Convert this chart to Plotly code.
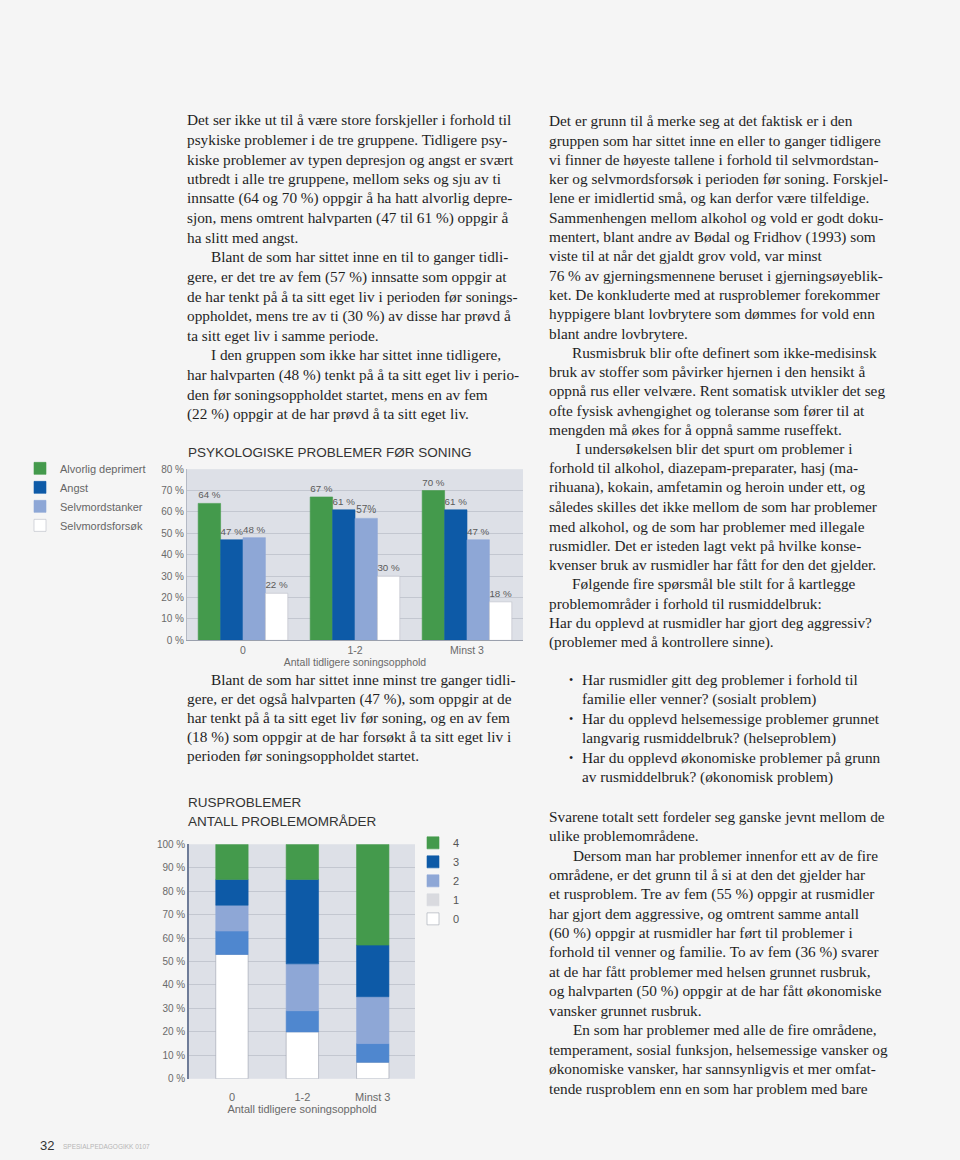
import plotly.graph_objects as go
import numpy as np

W, H = 960, 1160

# ---------------- data ----------------
groups = ["0", "1-2", "Minst 3"]

psy_series = ["Alvorlig deprimert", "Angst", "Selvmordstanker", "Selvmordsforsøk"]
alvorlig_deprimert = [64, 67, 70]
angst = [47, 61, 61]
selvmordstanker = [48, 57, 47]
selvmordsforsok = [22, 30, 18]
psy_colors = ["#449a4c", "#0d5aa7", "#8ea7d6", "#ffffff"]

rus_levels = ["0", "1", "2", "3", "4"]
rus_0 = [53, 20, 7]
rus_1 = [10, 9, 8]
rus_2 = [11, 20, 20]
rus_3 = [11, 36, 22]
rus_4 = [15, 15, 43]
rus_colors = ["#ffffff", "#4f87cf", "#8ea7d6", "#0d5aa7", "#449a4c"]
rus_legend_colors = ["#ffffff", "#d9dadf", "#8ea7d6", "#0d5aa7", "#449a4c"]

pct_ticks_1 = list(range(0, 81, 10))
pct_ticks_2 = list(range(0, 101, 10))

# ---------------- body text ----------------
col2_top = [
    (0, "Det ser ikke ut til å være store forskjeller i forhold til"),
    (0, "psykiske problemer i de tre gruppene. Tidligere psy-"),
    (0, "kiske problemer av typen depresjon og angst er svært"),
    (0, "utbredt i alle tre gruppene, mellom seks og sju av ti"),
    (0, "innsatte (64 og 70 %) oppgir å ha hatt alvorlig depre-"),
    (0, "sjon, mens omtrent halvparten (47 til 61 %) oppgir å"),
    (0, "ha slitt med angst."),
    (1, "Blant de som har sittet inne en til to ganger tidli-"),
    (0, "gere, er det tre av fem (57 %) innsatte som oppgir at"),
    (0, "de har tenkt på å ta sitt eget liv i perioden før sonings-"),
    (0, "oppholdet, mens tre av ti (30 %) av disse har prøvd å"),
    (0, "ta sitt eget liv i samme periode."),
    (1, "I den gruppen som ikke har sittet inne tidligere,"),
    (0, "har halvparten (48 %) tenkt på å ta sitt eget liv i perio-"),
    (0, "den før soningsoppholdet startet, mens en av fem"),
    (0, "(22 %) oppgir at de har prøvd å ta sitt eget liv."),
]
col2_bottom = [
    (1, "Blant de som har sittet inne minst tre ganger tidli-"),
    (0, "gere, er det også halvparten (47 %), som oppgir at de"),
    (0, "har tenkt på å ta sitt eget liv før soning, og en av fem"),
    (0, "(18 %) som oppgir at de har forsøkt å ta sitt eget liv i"),
    (0, "perioden før soningsoppholdet startet."),
]
col3_top = [
    (0, "Det er grunn til å merke seg at det faktisk er i den"),
    (0, "gruppen som har sittet inne en eller to ganger tidligere"),
    (0, "vi finner de høyeste tallene i forhold til selvmordstan-"),
    (0, "ker og selvmordsforsøk i perioden før soning. Forskjel-"),
    (0, "lene er imidlertid små, og kan derfor være tilfeldige."),
    (0, "Sammenhengen mellom alkohol og vold er godt doku-"),
    (0, "mentert, blant andre av Bødal og Fridhov (1993) som"),
    (0, "viste til at når det gjaldt grov vold, var minst"),
    (0, "76 % av gjerningsmennene beruset i gjerningsøyeblik-"),
    (0, "ket. De konkluderte med at rusproblemer forekommer"),
    (0, "hyppigere blant lovbrytere som dømmes for vold enn"),
    (0, "blant andre lovbrytere."),
    (1, "Rusmisbruk blir ofte definert som ikke-medisinsk"),
    (0, "bruk av stoffer som påvirker hjernen i den hensikt å"),
    (0, "oppnå rus eller velvære. Rent somatisk utvikler det seg"),
    (0, "ofte fysisk avhengighet og toleranse som fører til at"),
    (0, "mengden må økes for å oppnå samme ruseffekt."),
    (1, " I undersøkelsen blir det spurt om problemer i"),
    (0, "forhold til alkohol, diazepam-preparater, hasj (ma-"),
    (0, "rihuana), kokain, amfetamin og heroin under ett, og"),
    (0, "således skilles det ikke mellom de som har problemer"),
    (0, "med alkohol, og de som har problemer med illegale"),
    (0, "rusmidler. Det er isteden lagt vekt på hvilke konse-"),
    (0, "kvenser bruk av rusmidler har fått for den det gjelder."),
    (1, "Følgende fire spørsmål ble stilt for å kartlegge"),
    (0, "problemområder i forhold til rusmiddelbruk:"),
    (0, "Har du opplevd at rusmidler har gjort deg aggressiv?"),
    (0, "(problemer med å kontrollere sinne)."),
]
col3_bullets = [
    (1, "Har rusmidler gitt deg problemer i forhold til"),
    (0, "familie eller venner? (sosialt problem)"),
    (1, "Har du opplevd helsemessige problemer grunnet"),
    (0, "langvarig rusmiddelbruk? (helseproblem)"),
    (1, "Har du opplevd økonomiske problemer på grunn"),
    (0, "av rusmiddelbruk? (økonomisk problem)"),
]
col3_bottom = [
    (0, "Svarene totalt sett fordeler seg ganske jevnt mellom de"),
    (0, "ulike problemområdene."),
    (1, "Dersom man har problemer innenfor ett av de fire"),
    (0, "områdene, er det grunn til å si at den det gjelder har"),
    (0, "et rusproblem. Tre av fem (55 %) oppgir at rusmidler"),
    (0, "har gjort dem aggressive, og omtrent samme antall"),
    (0, "(60 %) oppgir at rusmidler har ført til problemer i"),
    (0, "forhold til venner og familie. To av fem (36 %) svarer"),
    (0, "at de har fått problemer med helsen grunnet rusbruk,"),
    (0, "og halvparten (50 %) oppgir at de har fått økonomiske"),
    (0, "vansker grunnet rusbruk."),
    (1, "En som har problemer med alle de fire områdene,"),
    (0, "temperament, sosial funksjon, helsemessige vansker og"),
    (0, "økonomiske vansker, har sannsynligvis et mer omfat-"),
    (0, "tende rusproblem enn en som har problem med bare"),
]


def px(x):
    return x / W


def py(y):
    return 1 - y / H


SANS = "Liberation Sans, Arial, sans-serif"
SERIF = "Liberation Serif, Times New Roman, serif"
TXT = "#1f1f1f"
AX = "#6a6a6a"
BODY = 15.3
TY = -4  # vertical correction for serif text boxes

fig = go.Figure()

# ---------------- chart 1 : grouped bars ----------------
psy_values = [alvorlig_deprimert, angst, selvmordstanker, selvmordsforsok]
for name, vals, col in zip(psy_series, psy_values, psy_colors):
    labels = [("57%" if (name == "Selvmordstanker" and v == 57) else f"{v} %") for v in vals]
    fig.add_trace(go.Bar(
        x=groups, y=vals, name=name, marker_color=col,
        marker_line=dict(color="#b8bcc6" if col == "#ffffff" else col, width=0.6),
        text=labels, textposition="outside", cliponaxis=False,
        textfont=dict(family=SANS, size=10, color="#5a5a5a"),
        xaxis="x", yaxis="y", legend="legend",
    ))

# ---------------- chart 2 : stacked bars (via base) ----------------
rus_values = np.array([rus_0, rus_1, rus_2, rus_3, rus_4], dtype=float)
rus_base = np.vstack([np.zeros(3), np.cumsum(rus_values, axis=0)[:-1]])
for lvl, vals, base, col in zip(rus_levels, rus_values, rus_base, rus_colors):
    fig.add_trace(go.Bar(
        x=groups, y=vals, base=base, name=lvl, marker_color=col,
        marker_line=dict(color="#9aa0ac" if col == "#ffffff" else col, width=0.6),
        width=0.46, offsetgroup="stack", showlegend=False,
        xaxis="x2", yaxis="y2",
    ))
# legend entries for chart 2 (4 on top)
for lvl, col in reversed(list(zip(rus_levels, rus_legend_colors))):
    fig.add_trace(go.Bar(
        x=[None], y=[None], name=lvl, marker_color=col,
        marker_line=dict(color="#a0a4ae" if col == "#ffffff" else col, width=0.6),
        xaxis="x2", yaxis="y2", legend="legend2",
    ))

fig.update_layout(
    width=W, height=H,
    margin=dict(l=0, r=0, t=0, b=0),
    paper_bgcolor="#f5f5f5",
    plot_bgcolor="#dde0e7",
    barmode="group", bargap=0.2, bargroupgap=0,
    showlegend=True,
    font=dict(family=SANS, color=TXT),
    xaxis=dict(
        domain=[px(187), px(523)], anchor="y", type="category",
        range=[-0.5, 2.5], showgrid=False, zeroline=False,
        showline=True, linecolor="#9aa0ad", linewidth=1,
        tickfont=dict(family=SANS, size=10.5, color=AX), ticks="",
        title=dict(text="Antall tidligere soningsopphold", standoff=2,
                   font=dict(family=SANS, size=10.5, color=AX)),
    ),
    yaxis=dict(
        domain=[py(641), py(468)], anchor="x", range=[0, 80],
        tickmode="array", tickvals=pct_ticks_1,
        ticktext=[f"{v} %" for v in pct_ticks_1],
        showgrid=True, gridcolor="#c3c7d0", gridwidth=1, zeroline=False,
        showline=True, linecolor="#b4b9c4", linewidth=1,
        tickfont=dict(family=SANS, size=10, color=AX), ticks="",
    ),
    xaxis2=dict(
        domain=[px(189), px(415)], anchor="y2", type="category",
        range=[-0.61, 2.6], showgrid=False, zeroline=False,
        showline=False, ticks="", ticklabelstandoff=10,
        tickfont=dict(family=SANS, size=11, color=AX),
        title=dict(text="Antall tidligere soningsopphold", standoff=1,
                   font=dict(family=SANS, size=11, color=AX)),
    ),
    yaxis2=dict(
        domain=[py(1084), py(847)], anchor="x2", range=[0, 100],
        tickmode="array", tickvals=pct_ticks_2,
        ticktext=[f"{v} %" for v in pct_ticks_2],
        showgrid=True, gridcolor="#c3c7d0", gridwidth=1, zeroline=False,
        showline=True, linecolor="#6f7c98", linewidth=1.5,
        tickfont=dict(family=SANS, size=10, color=AX), ticks="",
    ),
    legend=dict(
        x=px(20), y=py(496), xanchor="left", yanchor="middle",
        bgcolor="rgba(0,0,0,0)", traceorder="normal",
        font=dict(family=SANS, size=11, color="#666666"),
        itemwidth=30, itemclick=False,
    ),
    legend2=dict(
        x=px(413), y=py(884), xanchor="left", yanchor="middle",
        bgcolor="rgba(0,0,0,0)", traceorder="normal",
        font=dict(family=SANS, size=11, color="#555555"),
        itemwidth=30, itemclick=False,
    ),
)

annotations = []


def add_lines(lines, x0, y0, dy, indent=22, size=BODY):
    for i, (ind, t) in enumerate(lines):
        annotations.append(dict(
            text=t, x=px(x0 + (indent if ind else 0)), y=py(y0 + i * dy + TY),
            xref="paper", yref="paper", xanchor="left", yanchor="middle",
            showarrow=False, font=dict(family=SERIF, size=size, color=TXT),
        ))


add_lines(col2_top, 185, 119, 19.8, indent=24)
add_lines(col2_bottom, 185, 685, 19.1, indent=24)
add_lines(col3_top, 547, 120, 19.5, indent=23)
add_lines(col3_bottom, 547, 823, 19.6, indent=24)
# bullets
for i, (b, t) in enumerate(col3_bullets):
    y = 685 + i * 19.7 + TY
    if b:
        annotations.append(dict(text="•", x=px(567), y=py(y), xref="paper", yref="paper",
                                xanchor="left", yanchor="middle", showarrow=False,
                                font=dict(family=SERIF, size=12, color=TXT)))
    annotations.append(dict(text=t, x=px(580), y=py(y), xref="paper", yref="paper",
                            xanchor="left", yanchor="middle", showarrow=False,
                            font=dict(family=SERIF, size=BODY, color=TXT)))

# chart titles
for t, y in [("PSYKOLOGISKE PROBLEMER FØR SONING", 451),
             ("RUSPROBLEMER", 805), ("ANTALL PROBLEMOMRÅDER", 824)]:
    annotations.append(dict(text=t, x=px(186), y=py(y), xref="paper", yref="paper",
                            xanchor="left", yanchor="middle", showarrow=False,
                            font=dict(family=SANS, size=13.5, color="#333333")))

# footer
annotations.append(dict(text="32", x=px(38), y=py(1151), xref="paper", yref="paper",
                        xanchor="left", yanchor="middle", showarrow=False,
                        font=dict(family=SANS, size=13, color="#333333")))
annotations.append(dict(text="SPESIALPEDAGOGIKK 0107", x=px(61), y=py(1152), xref="paper",
                        yref="paper", xanchor="left", yanchor="middle", showarrow=False,
                        font=dict(family=SANS, size=6.5, color="#b5b5b5")))

fig.update_layout(annotations=annotations)

fig.write_html(
    "out.html",
    config={"displayModeBar": False},
    post_script="document.body.style.margin='0';document.body.style.overflow='hidden';",
)
